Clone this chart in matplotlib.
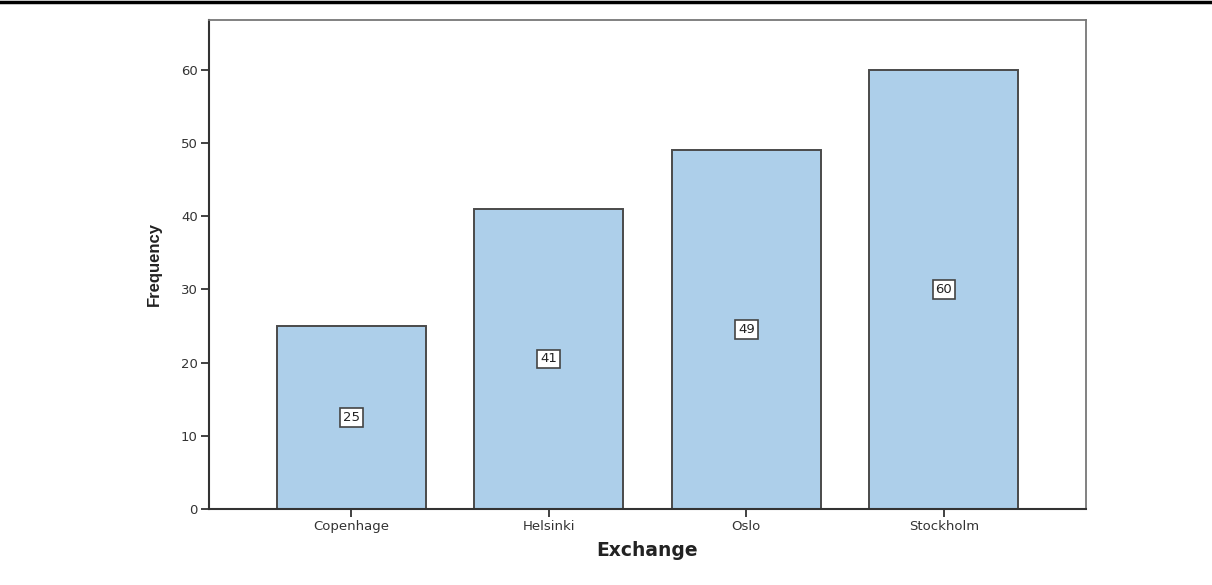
import matplotlib
matplotlib.use("Agg")
import matplotlib.pyplot as plt
from matplotlib.lines import Line2D

categories = ["Copenhage", "Helsinki", "Oslo", "Stockholm"]
frequencies = [25, 41, 49, 60]
yticks = [0, 10, 20, 30, 40, 50, 60]

fig = plt.figure(figsize=(12.12, 5.85), dpi=100)
W, H = 1212, 585
ax = fig.add_axes([209 / W, 1 - 509 / H, (1086 - 209) / W, (509 - 20) / H])

x = list(range(len(categories)))
ax.bar(x, frequencies, width=0.755, color="#ADCFEA", edgecolor="#4a4a4a", linewidth=1.4, zorder=2)

for xi, v in zip(x, frequencies):
    ax.text(xi, v / 2, str(v), ha="center", va="center", fontsize=9.5, color="#222222",
            bbox=dict(boxstyle="square,pad=0.22", facecolor="white", edgecolor="#444444", linewidth=1.2),
            zorder=3)

ax.set_xlim(-0.72, 3.72)
ax.set_ylim(0, 66.8)
ax.set_xticks(x)
ax.set_xticklabels(categories)
ax.set_yticks(yticks)
ax.tick_params(axis="both", direction="out", length=6, width=1.3, color="#333333",
               labelsize=9.5, labelcolor="#333333", pad=2)

for side in ["left", "bottom"]:
    ax.spines[side].set_color("#333333")
    ax.spines[side].set_linewidth(1.5)
for side in ["top", "right"]:
    ax.spines[side].set_color("#777777")
    ax.spines[side].set_linewidth(1.3)

ax.set_xlabel("Exchange", fontsize=13.5, fontweight="bold", color="#222222", labelpad=6)
ax.set_ylabel("Frequency", fontsize=12, fontweight="bold", color="#222222",
              family=["Liberation Sans", "DejaVu Sans"], labelpad=14)

fig.add_artist(Line2D([0, 1], [1 - 1.5 / H, 1 - 1.5 / H], transform=fig.transFigure,
                      color="black", linewidth=2.5))

fig.savefig("out.png", dpi=100)
